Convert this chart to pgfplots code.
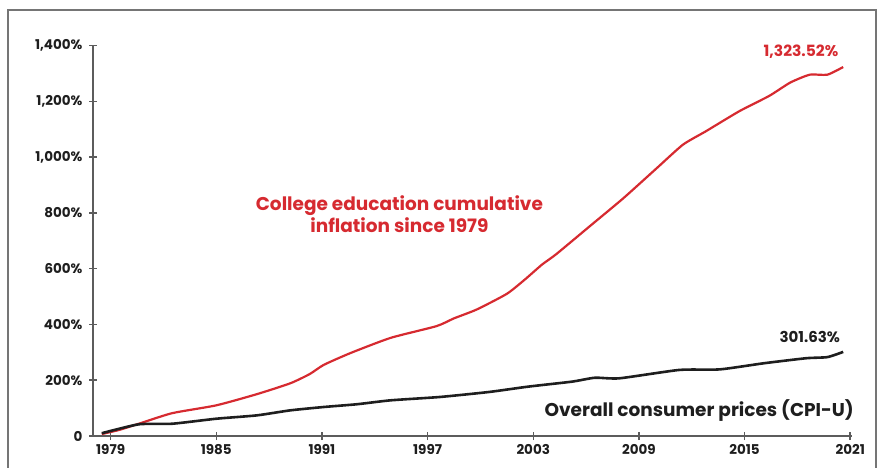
\documentclass[border=0pt]{standalone}
\usepackage{pgfplots}
\pgfplotsset{compat=1.18}
\usepackage{fontspec}
\setmainfont{Poppins}
\definecolor{colred}{HTML}{D62A30}
\definecolor{axgray}{HTML}{5C5C5C}
\definecolor{txt}{HTML}{1E1E1E}

\begin{document}
\begin{tikzpicture}[x=1pt,y=1pt]
\useasboundingbox (0,0) rectangle (878,467);
\draw[axgray!85, line width=1.6pt] (8,-2) -- (8,457) -- (876,457) -- (876,-2);
\begin{axis}[
  at={(93pt,31pt)}, anchor=south west,
  scale only axis, width=759pt, height=390.3pt,
  xmin=1978, xmax=2021.1, ymin=0, ymax=1400,
  axis lines=left, axis line style={axgray, line width=1.8pt, -},
  clip=false,
  tick align=center, major tick length=8pt,
  tick style={axgray, line width=1.5pt},
  xtick={1979,1985,1991,1997,2003,2009,2015,2021},
  xticklabels={1979,1985,1991,1997,2003,2009,2015,2021},
  ytick={0,200,400,600,800,1000,1200,1400},
  yticklabels={0,200\%,400\%,600\%,800\%,{1,000\%},{1,200\%},{1,400\%}},
  ticklabel style={font=\bfseries\fontsize{13.5}{15}\selectfont, text=txt},
  yticklabel style={xshift=-3pt},
  xticklabel style={yshift=-1pt},
]
\addplot[colred, line width=2.2pt, smooth, tension=0.35] coordinates {
(1978.5,7) (1979.5,22) (1980.7,46) (1982.5,82) (1985,110) (1987.3,150)
(1989.2,189) (1990.3,222) (1991.1,255) (1992.6,297) (1994.9,352) (1997.5,394)
(1998.5,422) (1999.8,454) (2001.5,510) (2002.5,560) (2003.5,615) (2004.3,652)
(2006.2,752) (2008.1,852) (2010,960) (2011.5,1045) (2012.8,1093) (2014.7,1165)
(2016.4,1220) (2017.6,1268) (2018.7,1296) (2019.7,1296) (2020.6,1323.52)
};
\addplot[txt, line width=2.6pt, smooth, tension=0.35] coordinates {
(1978.5,10) (1980.6,42) (1982.5,44) (1985,62) (1987.3,74) (1989.2,92)
(1991.1,104) (1993,114) (1994.9,128) (1997.7,140) (2000.5,158) (2002.7,177)
(2005.2,195) (2006.5,209) (2007.9,207) (2011.3,237) (2013.6,239) (2016.1,261)
(2018.5,279) (2019.7,283) (2020.6,301.63)
};
\node[text=colred, font=\bfseries\fontsize{15.5}{17}\selectfont] at (axis cs:2018.2,1377) {1,323.52\%};
\node[text=txt, font=\bfseries\fontsize{15}{17}\selectfont] at (axis cs:2018.7,355) {301.63\%};
\node[text=txt, anchor=east, font=\bfseries\fontsize{18.5}{20}\selectfont] at (axis cs:2021.4,92) {Overall consumer prices (CPI-U)};
\node[text=colred, align=center, font=\bfseries\fontsize{18.5}{22}\selectfont] at (axis cs:1995.4,796) {College education cumulative\\inflation since 1979};
\end{axis}
\end{tikzpicture}
\end{document}
